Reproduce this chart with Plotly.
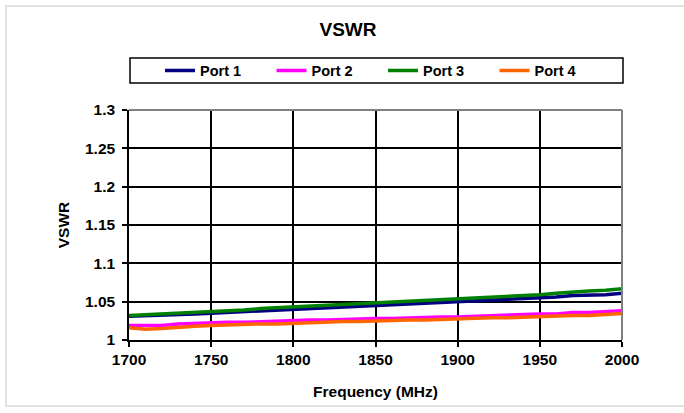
import plotly.graph_objects as go

freq = [1700 + 10 * i for i in range(31)]

port1 = [1.031, 1.0315, 1.032, 1.033, 1.034, 1.035, 1.036, 1.036, 1.038, 1.039,
         1.039, 1.041, 1.042, 1.043, 1.044, 1.045, 1.046, 1.047, 1.047, 1.049,
         1.049, 1.050, 1.051, 1.052, 1.053, 1.055, 1.056, 1.058, 1.058, 1.059, 1.061]
port2 = [1.019, 1.0185, 1.019, 1.021, 1.022, 1.0225, 1.023, 1.023, 1.024, 1.025,
         1.0255, 1.026, 1.026, 1.027, 1.027, 1.028, 1.028, 1.029, 1.029, 1.030,
         1.030, 1.031, 1.032, 1.032, 1.033, 1.034, 1.034, 1.036, 1.036, 1.037, 1.038]
port3 = [1.032, 1.033, 1.034, 1.035, 1.035, 1.036, 1.038, 1.039, 1.041, 1.042,
         1.044, 1.044, 1.045, 1.046, 1.047, 1.049, 1.050, 1.051, 1.052, 1.053,
         1.054, 1.055, 1.056, 1.057, 1.058, 1.059, 1.061, 1.063, 1.064, 1.065, 1.067]
port4 = [1.016, 1.014, 1.015, 1.017, 1.018, 1.019, 1.020, 1.020, 1.021, 1.021,
         1.022, 1.022, 1.023, 1.024, 1.024, 1.025, 1.025, 1.026, 1.026, 1.027,
         1.028, 1.028, 1.029, 1.029, 1.030, 1.031, 1.031, 1.032, 1.032, 1.033, 1.0345]

series = [("Port 1", port1, "#000080"),
          ("Port 2", port2, "#FF00FF"),
          ("Port 3", port3, "#008000"),
          ("Port 4", port4, "#FF6600")]

FONT = "Arial, Liberation Sans, sans-serif"

fig = go.Figure()
for name, vals, col in series:
    fig.add_trace(go.Scatter(x=freq, y=vals, name=name, mode="lines",
                             line=dict(color=col, width=3.5)))

W, H = 684, 413
L, R, T, B = 129, 622, 110, 340
pw, ph = R - L, B - T

def px_x(p):
    return (p - L) / pw

def px_y(p):
    return (B - p) / ph

fig.update_layout(
    width=W, height=H,
    margin=dict(l=L, r=W - R, t=T, b=H - B, pad=0),
    paper_bgcolor="white", plot_bgcolor="white",
    font=dict(family=FONT, size=15, color="black"),
    title=dict(text="<b>VSWR</b>", x=348 / W, xanchor="center", xref="container",
               y=1 - 29 / H, yanchor="middle", yref="container",
               font=dict(size=19, family=FONT, color="black")),
    showlegend=True,
    legend=dict(orientation="h", x=px_x(160), xanchor="left",
                y=px_y(70.5), yanchor="middle",
                entrywidth=66.5, entrywidthmode="pixels",
                bgcolor="rgba(0,0,0,0)", borderwidth=0,
                font=dict(size=14.5, family=FONT, color="black", weight="bold"),
                itemclick=False, itemdoubleclick=False, tracegroupgap=0),
    xaxis=dict(range=[1700, 2000], dtick=50, tick0=1700,
               showgrid=True, gridcolor="black", gridwidth=1.5,
               showline=True, linecolor="black", linewidth=1.5, mirror=False,
               ticks="outside", ticklen=5, tickcolor="black", tickwidth=1.5,
               tickfont=dict(size=15.5, family=FONT, weight="bold"),
               zeroline=False,
               title=dict(text="<b>Frequency (MHz)</b>", standoff=19,
                          font=dict(size=15.5, family=FONT))),
    yaxis=dict(range=[1, 1.3], dtick=0.05, tick0=1,
               showgrid=True, gridcolor="black", gridwidth=1.5,
               showline=True, linecolor="black", linewidth=1.5, mirror=False,
               ticks="outside", ticklen=5, tickcolor="black", tickwidth=1.5,
               ticklabelstandoff=4,
               tickfont=dict(size=15.5, family=FONT, weight="bold"),
               zeroline=False,
               title=dict(text="<b>VSWR</b>", standoff=12,
                          font=dict(size=15.5, family=FONT))),
)

shapes = [
    dict(type="line", xref="paper", yref="paper", x0=0, x1=1, y0=1, y1=1,
         line=dict(color="#808080", width=2)),
    dict(type="line", xref="paper", yref="paper", x0=1, x1=1, y0=0, y1=1,
         line=dict(color="#808080", width=2)),
    dict(type="rect", xref="paper", yref="paper",
         x0=px_x(130), x1=px_x(623), y0=px_y(83), y1=px_y(58),
         line=dict(color="black", width=1.5), fillcolor="rgba(0,0,0,0)"),
    dict(type="rect", xref="paper", yref="paper",
         x0=px_x(6), x1=px_x(720), y0=px_y(406), y1=px_y(6),
         line=dict(color="#d9d9d9", width=1.5), fillcolor="rgba(0,0,0,0)"),
]
fig.update_layout(shapes=shapes)

fig.write_html("out.html", config={"displayModeBar": False})

with open("out.html", "r", encoding="utf-8") as f:
    html = f.read()
html = html.replace("<head>", "<head><style>html,body{margin:0;padding:0;overflow:hidden;}</style>", 1)
with open("out.html", "w", encoding="utf-8") as f:
    f.write(html)
